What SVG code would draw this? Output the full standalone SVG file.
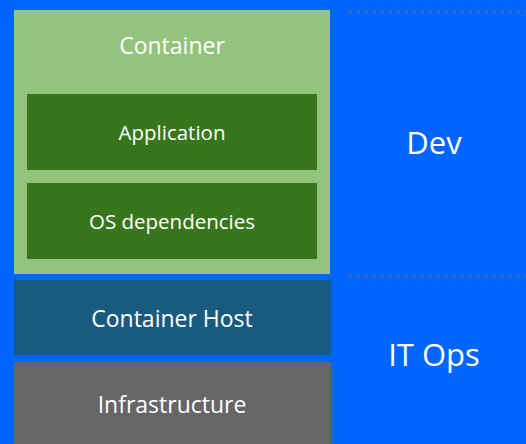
<svg xmlns="http://www.w3.org/2000/svg" width="526" height="444" viewBox="0 0 526 444">
  <style>
    .lbl { font-family: "Open Sans", "Noto Sans", "Liberation Sans", sans-serif; fill: #ffffff; text-anchor: middle; }
    .sm { font-size: 23px; }
    .xs { font-size: 20.5px; }
    .lg { font-size: 31px; }
    .sep { stroke: #5e6a88; stroke-width: 2.5; stroke-dasharray: 2.5 5.5; fill: none; }
  </style>
  <rect x="0" y="0" width="526" height="444" fill="#0066ff"/>

  <g id="separators">
    <line class="sep" x1="349" y1="11.5" x2="526" y2="11.5"/>
    <line class="sep" x1="349" y1="276" x2="526" y2="276"/>
  </g>

  <g id="container">
    <rect x="14" y="10" width="316" height="264" fill="#93c47d"/>
    <text class="lbl sm" x="172" y="54">Container</text>
  </g>
  <g id="application">
    <rect x="27" y="94" width="290" height="76" fill="#38761d"/>
    <text class="lbl xs" x="172" y="140">Application</text>
  </g>
  <g id="os-dependencies">
    <rect x="27" y="183" width="290" height="76" fill="#38761d"/>
    <text class="lbl xs" x="172" y="229">OS dependencies</text>
  </g>
  <g id="container-host">
    <rect x="14" y="280" width="317" height="75" fill="#185b7e"/>
    <text class="lbl sm" x="172" y="327">Container Host</text>
  </g>
  <g id="infrastructure">
    <rect x="14" y="362" width="317" height="82" fill="#666666"/>
    <text class="lbl sm" x="172" y="413">Infrastructure</text>
  </g>
  <g id="dev">
    <text class="lbl lg" x="434" y="154">Dev</text>
  </g>
  <g id="it-ops">
    <text class="lbl lg" x="434" y="366">IT Ops</text>
  </g>
</svg>
